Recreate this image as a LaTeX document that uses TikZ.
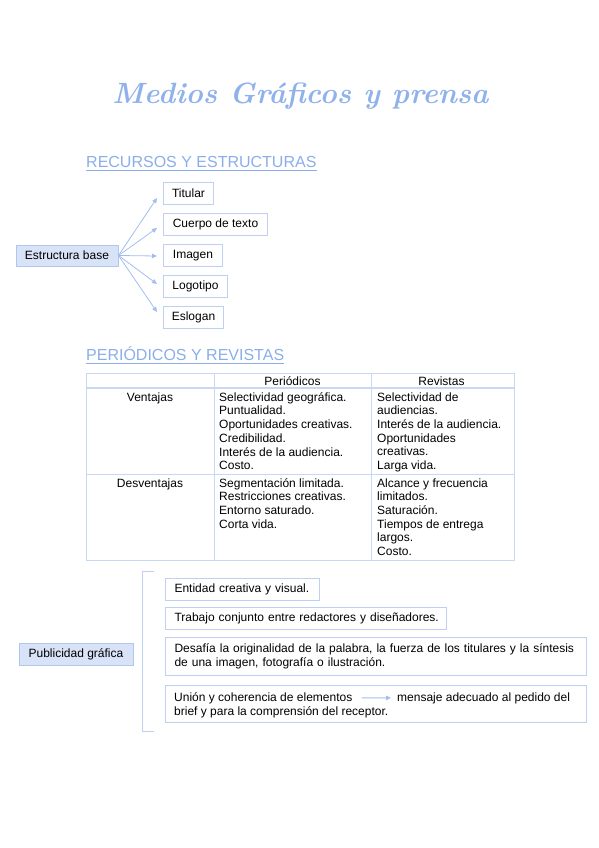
\documentclass[tikz,border=0pt]{standalone}
\usepackage{fontspec}
\usepackage{graphicx}
\newfontfamily\bodyfont{Liberation Sans}
\usetikzlibrary{arrows.meta,calc,fit}
\definecolor{titleblue}{HTML}{90B2EC}
\definecolor{headblue}{HTML}{8AAEEA}
\definecolor{linkblue}{HTML}{A3BEEE}
\definecolor{boxline}{HTML}{BFD1F2}
\definecolor{fillblue}{HTML}{D8E3F8}
\definecolor{fillborder}{HTML}{B0C6EE}
\definecolor{gridblue}{HTML}{C8D7F3}
\begin{document}
\begin{tikzpicture}[x=1pt,y=-1pt,
  txt/.style={font=\bodyfont\fontsize{12}{14}\selectfont, inner sep=0pt},
  wbox/.style={txt, draw=boxline, line width=1pt, fill=white, minimum height=22pt, anchor=west},
  bbox/.style={txt, draw=fillborder, fill=fillblue, line width=1pt, minimum height=21pt},
  lbox/.style={txt, draw=boxline, line width=1pt, align=left, inner xsep=9pt, anchor=west},
  link/.style={draw=linkblue, line width=0.8pt, -{Triangle[length=5pt,width=4.5pt]}},
  heading/.style={font=\bodyfont\fontsize{16}{18}\selectfont, text=headblue, inner sep=0pt, anchor=base west},
  uline/.style={draw=headblue, line width=0.8pt},
  cell/.style={txt, font=\bodyfont\fontsize{12}{13.7}\selectfont, anchor=north west, align=left},
  gridline/.style={draw=gridblue, line width=0.8pt},
  bracket/.style={draw=boxline, line width=1pt}]

\useasboundingbox (0,0) rectangle (599,848);

% Title
\node[font=\rmfamily\bfseries\itshape, text=titleblue, inner sep=0pt, anchor=base] (title) at (300.5,103)
  {\resizebox{376pt}{!}{Medios Gráficos y prensa}};

% Section 1
\node[heading] (h1) at (86,167) {RECURSOS Y ESTRUCTURAS};
\draw[uline] ([yshift=-3pt]h1.base west) -- ([yshift=-3pt]h1.base east);

\node[bbox, minimum width=102pt] (eb) at (67,255.5) {Estructura base};
\node[wbox, minimum width=50pt] (tit) at (163,193) {Titular};
\node[wbox, minimum width=104pt] (cue) at (163,224.5) {Cuerpo de texto};
\node[wbox, minimum width=59pt] (ima) at (163,255.5) {Imagen};
\node[wbox, minimum width=64pt] (log) at (163,286.5) {Logotipo};
\node[wbox, minimum width=60pt] (esl) at (163,317.5) {Eslogan};

\draw[link] (eb.east) -- ($(tit.west)+(-6,5)$);
\draw[link] (eb.east) -- ($(cue.west)+(-6,3.5)$);
\draw[link] (eb.east) -- ($(ima.west)+(-6,0.5)$);
\draw[link] (eb.east) -- ($(log.west)+(-6,-2.5)$);
\draw[link] (eb.east) -- ($(esl.west)+(-6,-5.5)$);

% Section 2
\node[heading] (h2) at (86,360) {PERIÓDICOS Y REVISTAS};
\draw[uline] ([yshift=-3pt]h2.base west) -- ([yshift=-3pt]h2.base east);

\draw[gridline] (86,373) rectangle (514,560);
\draw[gridline, line width=1.6pt] (86,388) -- (514,388);
\draw[gridline] (86,474) -- (514,474);
\draw[gridline] (214,373) -- (214,560);
\draw[gridline] (371,373) -- (371,560);

\node[txt, anchor=base] (hper) at (292.5,385) {Periódicos};
\node[txt, anchor=base] (hrev) at (441.5,385) {Revistas};
\node[txt, anchor=base] (ven) at (150,401) {Ventajas};
\node[txt, anchor=base] (des) at (150,487) {Desventajas};

\node[cell] (vper) at (219,392.2) {Selectividad geográfica.\\Puntualidad.\\Oportunidades creativas.\\Credibilidad.\\Interés de la audiencia.\\Costo.};
\node[cell] (vrev) at (377,392.2) {Selectividad de\\audiencias.\\Interés de la audiencia.\\Oportunidades\\creativas.\\Larga vida.};
\node[cell] (dper) at (219,478.2) {Segmentación limitada.\\Restricciones creativas.\\Entorno saturado.\\Corta vida.};
\node[cell] (drev) at (377,478.2) {Alcance y frecuencia\\limitados.\\Saturación.\\Tiempos de entrega\\largos.\\Costo.};

% Section 3
\node[bbox, minimum width=114pt, minimum height=22pt] (pg) at (76,654) {Publicidad gráfica};
\draw[bracket] (154,571) -- (142,571) -- (142,731) -- (154,731);

\node[lbox, text width=136pt, minimum height=22pt] (b1) at (165,589) {\mbox{Entidad creativa y visual.}};
\node[lbox, text width=263pt, minimum height=22pt] (b2) at (165,618.5) {\mbox{Trabajo conjunto entre redactores y diseñadores.}};
\node[lbox, text width=403pt, minimum height=38pt] (b3) at (165,656.5)
  {\mbox{Desafía la originalidad de la palabra, la fuerza de los titulares y la síntesis}\\\mbox{de una imagen, fotografía o ilustración.}};

\node[txt, anchor=base west] (u1) at (174,701) {Unión y coherencia de elementos};
\node[txt, anchor=base west] (u2) at (397,701) {mensaje adecuado al pedido del};
\node[txt, anchor=base west] (u3) at (174,715.3) {brief y para la comprensión del receptor.};
\node[draw=boxline, line width=1pt, inner sep=0pt, fit={(165,685) (586,722)}] (b4) {};
\draw[link, shorten <=9pt, shorten >=6pt] (u1.east) -- (u2.west);

\end{tikzpicture}
\end{document}
